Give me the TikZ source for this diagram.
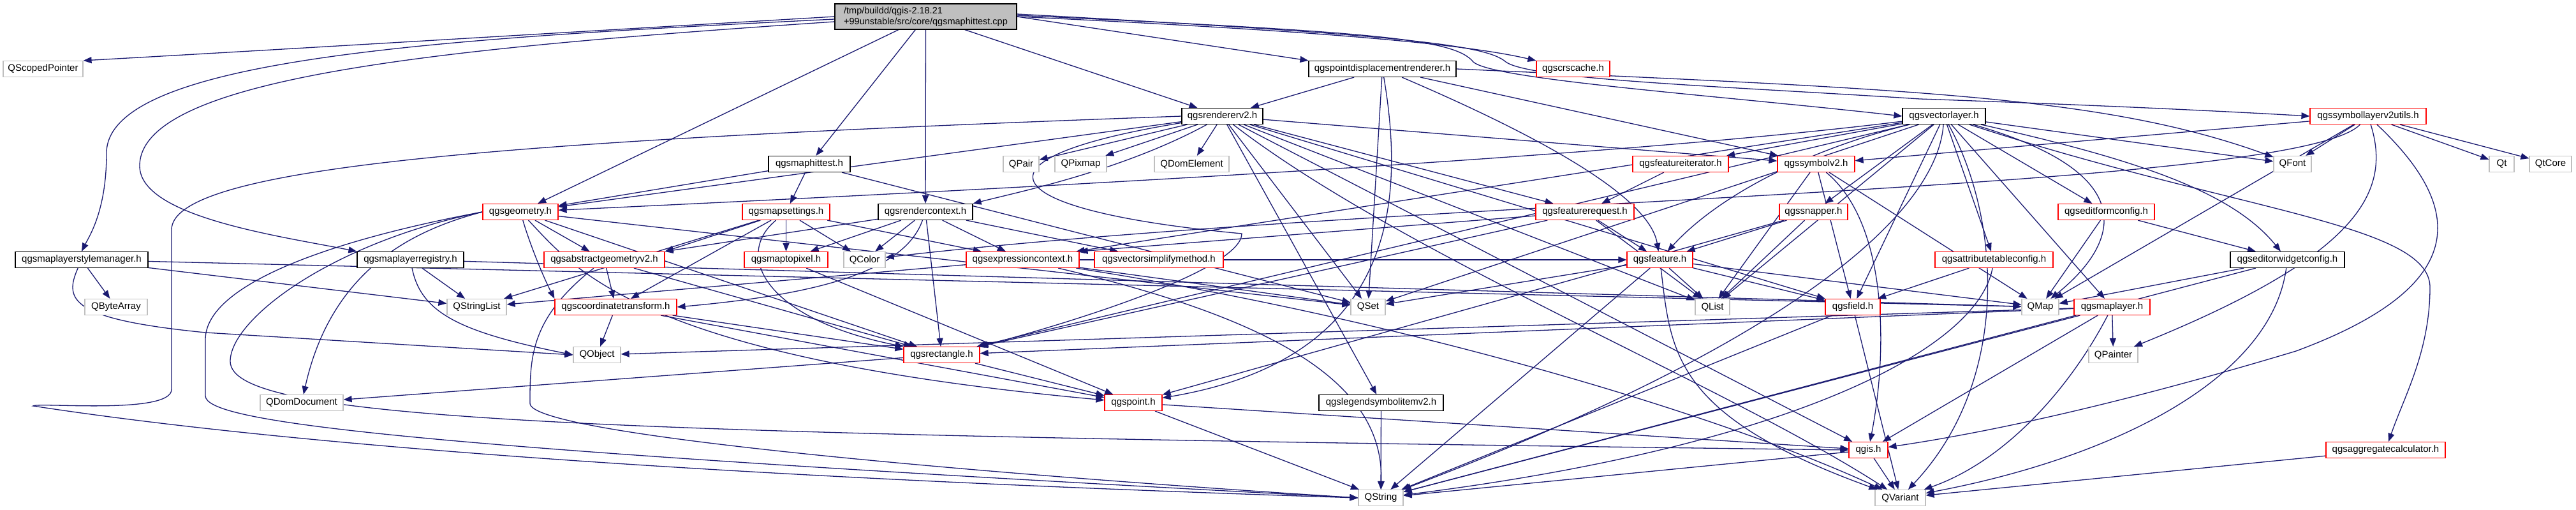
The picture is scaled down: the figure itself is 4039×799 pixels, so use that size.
\documentclass[tikz,border=0pt]{standalone}
\usepackage{fontspec}
\setmainfont{Liberation Sans}
\usetikzlibrary{arrows.meta,backgrounds}
\definecolor{edgeblue}{HTML}{191970}
\definecolor{qgray}{HTML}{BFBFBF}
\tikzset{
  box/.style={draw, rectangle, line width=1.2pt, minimum height=25pt, inner xsep=3pt, inner ysep=0pt, fill=white, font=\fontsize{15}{17}\selectfont},
  rbox/.style={box, draw=red},
  gbox/.style={box, draw=qgray},
  kbox/.style={box, draw=black},
  e/.style={draw=edgeblue, line width=1.3pt, -{Triangle[length=13pt,width=10pt]}},
}
\begin{document}
\begin{tikzpicture}[x=1pt,y=-1pt]
\useasboundingbox (0,0) rectangle (4039,799);
% rank 0
\node[kbox, fill=qgray, minimum width=285pt, minimum height=40pt, align=left, font=\fontsize{14.5}{17}\selectfont] (m) at (1451.5,26) {/tmp/buildd/qgis-2.18.21\\+99unstable/src/core/qgsmaphittest.cpp};
% rank 1
\node[gbox, minimum width=125pt] (qsp) at (67.5,108) {QScopedPointer};
\node[kbox, minimum width=231pt] (pdr) at (2167.5,108) {qgspointdisplacementrenderer.h};
\node[rbox, minimum width=115pt] (crs) at (2466.5,108) {qgscrscache.h};
% rank 2
\node[kbox, minimum width=127pt] (r2) at (1916.5,182) {qgsrendererv2.h};
\node[kbox, minimum width=130pt] (vl) at (3048,182) {qgsvectorlayer.h};
\node[rbox, minimum width=182pt] (slu) at (3713,182) {qgssymbollayerv2utils.h};
% rank 3
\node[kbox, minimum width=128pt] (mht) at (1269,257) {qgsmaphittest.h};
\node[gbox, minimum width=56pt] (qpair) at (1601,257) {QPair};
\node[gbox, minimum width=81pt] (qpix) at (1694.5,257) {QPixmap};
\node[gbox, minimum width=117pt] (qde) at (1868.5,257) {QDomElement};
\node[rbox, minimum width=150pt] (fi) at (2635,257) {qgsfeatureiterator.h};
\node[rbox, minimum width=121pt] (sv2) at (2847.5,257) {qgssymbolv2.h};
\node[gbox, minimum width=59pt] (qfont) at (3594.5,257) {QFont};
\node[gbox, minimum width=39pt] (qt) at (3922.5,257) {Qt};
\node[gbox, minimum width=66pt] (qtcore) at (3999,257) {QtCore};
% rank 4
\node[rbox, minimum width=118pt] (geom) at (816,332) {qgsgeometry.h};
\node[rbox, minimum width=137pt] (ms) at (1232.5,332) {qgsmapsettings.h};
\node[kbox, minimum width=148pt] (rc) at (1451,332) {qgsrendercontext.h};
\node[rbox, minimum width=154pt] (fr) at (2485,332) {qgsfeaturerequest.h};
\node[rbox, minimum width=107pt] (snap) at (2843.5,332) {qgssnapper.h};
\node[rbox, minimum width=151pt] (efc) at (3302.5,332) {qgseditformconfig.h};
% rank 5
\node[kbox, minimum width=208pt] (sm) at (128,407) {qgsmaplayerstylemanager.h};
\node[kbox, minimum width=167pt] (reg) at (643.5,407) {qgsmaplayerregistry.h};
\node[rbox, minimum width=189pt] (ag) at (947.5,407) {qgsabstractgeometryv2.h};
\node[rbox, minimum width=131pt] (m2p) at (1232.5,407) {qgsmaptopixel.h};
\node[gbox, minimum width=65pt] (qcolor) at (1355.5,407) {QColor};
\node[rbox, minimum width=177pt] (ec) at (1603.5,407) {qgsexpressioncontext.h};
\node[rbox, minimum width=202pt] (vsm) at (1817,407) {qgsvectorsimplifymethod.h};
\node[rbox, minimum width=103pt] (ft) at (2602.5,407) {qgsfeature.h};
\node[rbox, minimum width=185pt] (atc) at (3126.5,407) {qgsattributetableconfig.h};
\node[kbox, minimum width=179pt] (ewc) at (3586.5,407) {qgseditorwidgetconfig.h};
% rank 6
\node[gbox, minimum width=98pt] (qba) at (182,481) {QByteArray};
\node[gbox, minimum width=93pt] (qsl) at (747.5,481) {QStringList};
\node[rbox, minimum width=191pt] (ct) at (965.5,481) {qgscoordinatetransform.h};
\node[gbox, minimum width=54pt] (qset) at (2145,481) {QSet};
\node[gbox, minimum width=54pt] (qlist) at (2685,481) {QList};
\node[rbox, minimum width=86pt] (field) at (2905,481) {qgsfield.h};
\node[gbox, minimum width=58pt] (qmap) at (3199,481) {QMap};
\node[rbox, minimum width=119pt] (ml) at (3311.5,481) {qgsmaplayer.h};
% rank 7
\node[gbox, minimum width=74pt] (qobj) at (936,556) {QObject};
\node[rbox, minimum width=119pt] (rect) at (1476.5,556) {qgsrectangle.h};
\node[gbox, minimum width=77pt] (qpaint) at (3313.5,556) {QPainter};
% rank 8
\node[gbox, minimum width=130pt] (qdd) at (473,631) {QDomDocument};
\node[rbox, minimum width=90pt] (pt) at (1777,631) {qgspoint.h};
\node[kbox, minimum width=195pt] (lsi) at (2165.5,631) {qgslegendsymbolitemv2.h};
% rank 9
\node[rbox, minimum width=61pt] (qgis) at (2929.5,705) {qgis.h};
\node[rbox, minimum width=187pt] (agg) at (3740.5,705) {qgsaggregatecalculator.h};
% rank 10
\node[gbox, minimum width=70pt] (qstr) at (2165,780) {QString};
\node[gbox, minimum width=79pt] (qvar) at (2979.5,780) {QVariant};

\begin{scope}[on background layer]
% main
\draw[e] (m.west) .. controls (900,50) and (400,80) .. (qsp.north east);
\draw[e] ([yshift=-4pt]m.west) .. controls (700,60) and (167,90) .. (167,240) .. controls (167,330) and (140,370) .. (sm.north);
\draw[e] ([yshift=-8pt]m.west) .. controls (700,75) and (219,120) .. (219,260) .. controls (219,340) and (440,370) .. (reg.north west);
\draw[e] (m) -- (geom);
\draw[e] (m) -- (mht);
\draw[e] (m) -- (rc);
\draw[e] (m) -- (r2);
\draw[e] (m.east) -- (pdr.north west);
\draw[e] (m.east) .. controls (2100,50) and (2300,70) .. (crs.north west);
\draw[e] ([yshift=2pt]m.east) .. controls (2150,50) and (2280,60) .. (2310,97) .. controls (2340,125) and (2700,150) .. (vl.west);
\draw[e] ([yshift=4pt]m.east) .. controls (2200,55) and (2330,70) .. (2361,97) .. controls (2400,125) and (2700,135) .. (3010,155) .. controls (3300,165) and (3500,175) .. (slu.west);
% pdr
\draw[e] (pdr) -- (r2);
\draw[e] (pdr) -- (qset);
\draw[e] (pdr) .. controls (2200,300) and (2200,560) .. (pt);
\draw[e] (pdr) .. controls (2500,250) and (2590,330) .. (ft);
\draw[e] (pdr) -- (sv2);
\draw[e] (pdr.east) .. controls (3000,140) and (3300,150) .. (qfont);
% r2
\draw[e] (r2.west) .. controls (800,220) and (269,260) .. (269,360) -- (269,610) .. controls (269,650) and (60,630) .. (52,636) .. controls (600,720) and (1500,760) .. (qstr.west);
\draw[e] (r2) -- (geom);
\draw[e] (r2) .. controls (1500,250) and (1560,330) .. (1947,366) .. controls (1947,420) and (1700,500) .. (rect.north east);
\draw[e] (r2) -- (qpair);
\draw[e] (r2) -- (qpix);
\draw[e] (r2) .. controls (1760,267) and (1600,300) .. (rc.north east);
\draw[e] (r2) -- (qde);
\draw[e] (r2) -- (sv2);
\draw[e] (r2) -- (fr);
\draw[e] (r2) -- (field);
\draw[e] (r2) -- (qgis);
\draw[e] (r2) -- (lsi);
\draw[e] (r2) -- (qlist);
\draw[e] (r2) .. controls (2200,400) and (2700,600) .. (qvar);
\draw[e] (r2) -- (qset);
% mht
\draw[e] (mht) -- (geom);
\draw[e] (mht) -- (ms);
\draw[e] (mht) -- (qset);
% vl
\draw[e] (vl) -- (fi);
\draw[e] (vl) -- (snap);
\draw[e] (vl) .. controls (2850,230) and (2700,300) .. (ft);
\draw[e] (vl) -- (field);
\draw[e] (vl) -- (qlist);
\draw[e] (vl) .. controls (3390,280) and (3300,400) .. (qmap);
\draw[e] (vl) -- (ml);
\draw[e] (vl) -- (efc);
\draw[e] (vl) .. controls (3350,250) and (3500,300) .. (ewc);
\draw[e] (vl) -- (atc);
\draw[e] (vl) -- (qfont);
\draw[e] (vl) .. controls (3500,330) and (3810,350) .. (3810,450) .. controls (3810,550) and (3770,620) .. (agg);
\draw[e] (vl) .. controls (2500,250) and (1500,300) .. (geom);
\draw[e] (vl) -- (qset);
\draw[e] (vl) .. controls (3040,300) and (2900,500) .. (qstr);
\draw[e] (vl) .. controls (3140,350) and (3150,600) .. (qvar);
\draw[e] (vl) -- (ec);
\draw[e] (vl) -- (rect);
% slu
\draw[e] (slu) -- (qfont);
\draw[e] (slu) -- (qt);
\draw[e] (slu) -- (qtcore);
\draw[e] (slu) -- (sv2);
\draw[e] (slu) -- (qmap);
\draw[e] (slu) .. controls (3750,300) and (3700,400) .. (qpaint);
\draw[e] (slu) .. controls (3870,330) and (3870,450) .. (3600,550) .. controls (3300,640) and (3100,680) .. (qgis);
\draw[e] (slu) .. controls (3600,300) and (2200,310) .. (qcolor);
% sv2
\draw[e] (sv2) -- (field);
\draw[e] (sv2) .. controls (2960,350) and (2960,550) .. (qgis);
\draw[e] (sv2) -- (qlist);
\draw[e] (sv2) -- (qmap);
% fi fr snap efc
\draw[e] (fi) -- (fr);
\draw[e] (fr) -- (ft);
\draw[e] (fr) -- (rect);
\draw[e] (fr) -- (ec.north east);
\draw[e] (fr) -- (qlist);
\draw[e] (snap) -- (ft);
\draw[e] (snap) -- (qlist);
\draw[e] (snap) -- (pt);
\draw[e] (efc) -- (qmap);
\draw[e] (efc) -- (ewc);
% geom
\draw[e] (geom) -- (ag);
\draw[e] (geom) .. controls (830,380) and (850,430) .. (ct.north west);
\draw[e] (geom.west) .. controls (650,360) and (520,420) .. (qdd);
\draw[e] (geom) .. controls (900,420) and (1000,560) .. (pt);
\draw[e] (geom.west) .. controls (500,380) and (322,450) .. (322,532) -- (322,620) .. controls (322,660) and (600,700) .. (qstr.west);
\draw[e] (geom.west) .. controls (520,380) and (361,500) .. (361,566) .. controls (361,660) and (900,680) .. (qgis.west);
\draw[e] (geom) -- (rect);
\draw[e] (geom) -- (qset);
% ms
\draw[e] (ms) -- (qsl);
\draw[e] (ms) .. controls (1150,400) and (1200,500) .. (rect.north west);
\draw[e] (ms) -- (m2p);
\draw[e] (ms) -- (qcolor);
\draw[e] (ms) -- (ec);
\draw[e] (ms) -- (ag.north east);
\draw[e] (ms) -- (ct);
% rc
\draw[e] (rc) .. controls (1420,420) and (1300,460) .. (ct.east);
\draw[e] (rc) -- (m2p);
\draw[e] (rc) -- (qcolor);
\draw[e] (rc) -- (rect);
\draw[e] (rc) -- (ec);
\draw[e] (rc) -- (vsm);
\draw[e] (rc) -- (ag.north east);
% sm reg
\draw[e] (sm) -- (qba);
\draw[e] (sm) -- (qsl);
\draw[e] (sm) .. controls (100,470) and (110,500) .. (322,521) -- (qobj.west);
\draw[e] (sm) -- (qmap);
\draw[e] (reg) -- (qsl);
\draw[e] (reg) .. controls (660,490) and (720,520) .. (qobj.west);
\draw[e] (reg) -- (qmap);
% ag ct m2p ec
\draw[e] (ag) -- (ct);
\draw[e] (ag) -- (rect);
\draw[e] (ag) .. controls (831,499) and (831,560) .. (831,632) .. controls (831,680) and (1500,740) .. (qstr.west);
\draw[e] (ct) -- (qobj);
\draw[e] (ct) -- (rect);
\draw[e] (ct) -- (pt);
\draw[e] (m2p) -- (pt);
\draw[e] (ec) -- (qsl);
\draw[e] (ec) -- (qset);
\draw[e] (ec) .. controls (2000,500) and (2170,600) .. (qstr);
\draw[e] (ec) -- (ft);
\draw[e] (ec) .. controls (2200,500) and (2700,650) .. (qvar);
% ft
\draw[e] (ft) -- (qset);
\draw[e] (ft) -- (qstr);
\draw[e] (ft) .. controls (2620,550) and (2620,650) .. (qvar);
\draw[e] (ft) -- (qlist);
\draw[e] (ft) -- (field);
\draw[e] (ft) -- (qmap);
% atc ewc field
\draw[e] (atc) .. controls (3100,550) and (2800,700) .. (qstr);
\draw[e] (atc) -- (field);
\draw[e] (ewc) -- (qmap);
\draw[e] (ewc) -- (qstr);
\draw[e] (ewc) .. controls (3560,600) and (3300,720) .. (qvar);
\draw[e] (field) -- (qstr);
\draw[e] (field) -- (qvar);
% ml
\draw[e] (ml) -- (qobj);
\draw[e] (ml) -- (rect);
\draw[e] (ml) -- (qpaint);
\draw[e] (ml) -- (qgis);
\draw[e] (ml) .. controls (3250,600) and (3150,720) .. (qvar);
\draw[e] (ml) -- (qstr);
% rect pt lsi qgis agg
\draw[e] (rect) -- (pt);
\draw[e] (rect) -- (qdd);
\draw[e] (pt) -- (qgis);
\draw[e] (pt) -- (qstr);
\draw[e] (lsi) -- (qstr);
\draw[e] (qgis) -- (qstr);
\draw[e] (qgis) -- (qvar);
\draw[e] (agg) -- (qvar);
\end{scope}
\end{tikzpicture}
\end{document}
